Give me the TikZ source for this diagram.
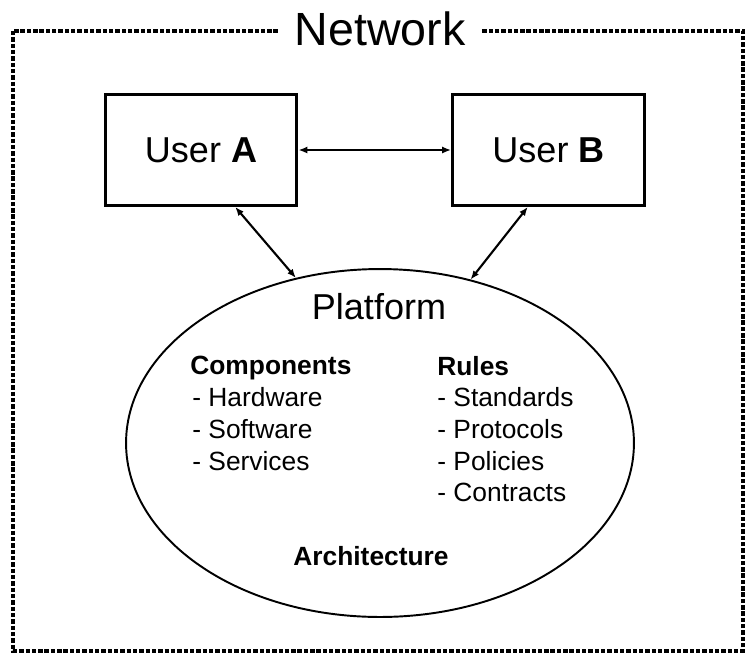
\documentclass[tikz,border=0pt]{standalone}
\usepackage{fontspec}
\setmainfont{Liberation Sans}
\usetikzlibrary{arrows.meta, shapes.geometric}
\tikzset{
    >={Latex[length=5pt, width=4pt]},
    frame/.style={line width=2.5pt, dash pattern=on 2.5pt off 1.1pt},
    userbox/.style={draw, line width=1.7pt, minimum width=3.84cm, minimum height=2.22cm,
        inner sep=0pt, font=\fontsize{20.5}{24}\selectfont},
    platform/.style={ellipse, draw, line width=1.1pt, minimum width=10.16cm,
        minimum height=6.96cm, inner sep=0pt},
    link/.style={<->, line width=1.2pt},
    heading/.style={anchor=base, inner sep=0pt, font=\fontsize{20.5}{24}\selectfont},
    listitem/.style={anchor=base west, inner sep=0pt, font=\fontsize{15}{18}\selectfont},
}

\begin{document}
\begin{tikzpicture}[x=0.02cm, y=-0.02cm]
        \useasboundingbox (0,0) rectangle (748,654);
        \draw[frame] (13,31) rectangle (743,651);
        \node[fill=white, inner xsep=9pt, inner ysep=3pt, anchor=base,
            font=\fontsize{26.5}{30}\selectfont] (net) at (380,45) {Network};
        \node[userbox] (userA) at (201,150) {User \textbf{A}};
        \node[userbox] (userB) at (548.5,150) {User \textbf{B}};
        \node[platform] (plat) at (380,443) {};
        \node[heading] (platname) at (379,319) {Platform};
        \draw[link] (userA.east) -- (userB.west);
        \draw[link] (userA.-59) -- (plat.117);
        \draw[link] (userB.-110) -- (plat.61);
        \node[listitem] (comps) at (190,374) {\textbf{Components}};
        \foreach \t [count=\i] in {Hardware,Software,Services}
            \node[listitem] (comp\i) at (192,374+32*\i) {- \t};
        \node[listitem] (rules) at (437,375) {\textbf{Rules}};
        \foreach \t [count=\i] in {Standards,Protocols,Policies,Contracts}
            \node[listitem] (rule\i) at (437,375+31.7*\i) {- \t};
        \node[listitem, anchor=base] (arch) at (371,565) {\textbf{Architecture}};
    \end{tikzpicture}
\end{document}
